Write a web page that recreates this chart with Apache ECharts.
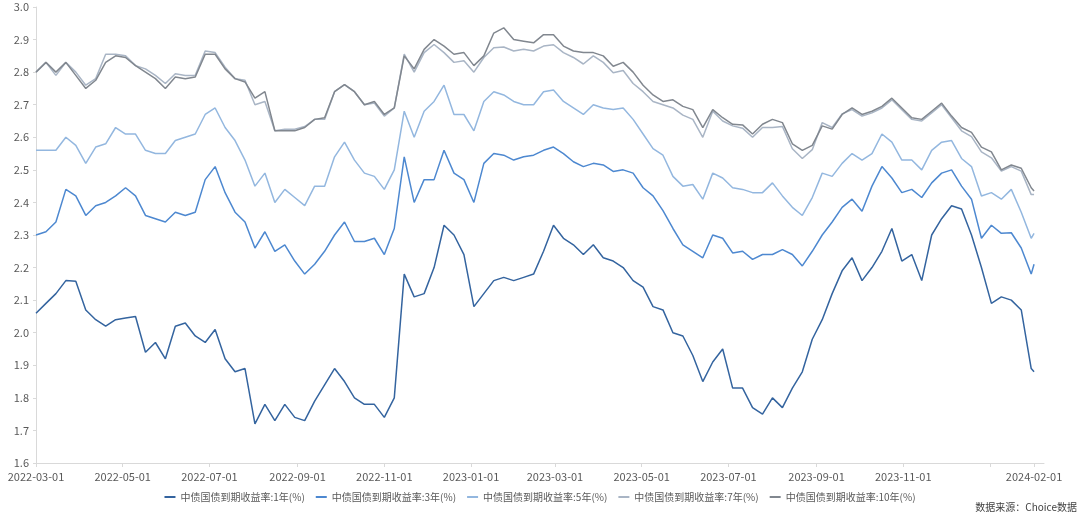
<!DOCTYPE html>
<html>
<head>
<meta charset="utf-8">
<script src="https://cdn.jsdelivr.net/npm/echarts@6/dist/echarts.min.js"></script>
<style>html,body{margin:0;padding:0;background:#fff;}#c{width:1080px;height:525px;}</style>
</head>
<body>
<div id="c"></div>
<script>
const dates = [
"2022-03-01","2022-03-08","2022-03-15","2022-03-22","2022-03-29","2022-04-05","2022-04-12","2022-04-19","2022-04-26","2022-05-03",
"2022-05-10","2022-05-17","2022-05-24","2022-05-31","2022-06-07","2022-06-14","2022-06-21","2022-06-28","2022-07-05","2022-07-12",
"2022-07-19","2022-07-26","2022-08-02","2022-08-09","2022-08-16","2022-08-23","2022-08-30","2022-09-06","2022-09-13","2022-09-20",
"2022-09-27","2022-10-04","2022-10-11","2022-10-18","2022-10-25","2022-11-01","2022-11-08","2022-11-15","2022-11-22","2022-11-29",
"2022-12-06","2022-12-13","2022-12-20","2022-12-27","2023-01-03","2023-01-10","2023-01-17","2023-01-24","2023-01-31","2023-02-07",
"2023-02-14","2023-02-21","2023-02-28","2023-03-07","2023-03-14","2023-03-21","2023-03-28","2023-04-04","2023-04-11","2023-04-18",
"2023-04-25","2023-05-02","2023-05-09","2023-05-16","2023-05-23","2023-05-30","2023-06-06","2023-06-13","2023-06-20","2023-06-27",
"2023-07-04","2023-07-11","2023-07-18","2023-07-25","2023-08-01","2023-08-08","2023-08-15","2023-08-22","2023-08-29","2023-09-05",
"2023-09-12","2023-09-19","2023-09-26","2023-10-03","2023-10-10","2023-10-17","2023-10-24","2023-10-31","2023-11-07","2023-11-14",
"2023-11-21","2023-11-28","2023-12-05","2023-12-12","2023-12-19","2023-12-26","2024-01-02","2024-01-09","2024-01-16","2024-01-23",
"2024-01-30","2024-02-01"
];
const y1 = [
2.06,2.09,2.12,2.16,2.158,2.07,2.04,2.02,2.04,2.045,
2.05,1.94,1.97,1.92,2.02,2.03,1.99,1.97,2.01,1.92,
1.88,1.89,1.72,1.78,1.73,1.78,1.74,1.73,1.79,1.84,
1.89,1.85,1.80,1.78,1.78,1.74,1.80,2.18,2.11,2.12,
2.20,2.33,2.30,2.24,2.08,2.12,2.16,2.17,2.16,2.17,
2.18,2.25,2.33,2.29,2.27,2.24,2.27,2.23,2.22,2.20,
2.16,2.14,2.08,2.07,2.00,1.99,1.93,1.85,1.91,1.95,
1.83,1.83,1.77,1.75,1.80,1.77,1.83,1.88,1.98,2.04,
2.12,2.19,2.23,2.16,2.20,2.25,2.32,2.22,2.24,2.16,
2.30,2.35,2.39,2.38,2.30,2.20,2.09,2.11,2.10,2.07,
1.89,1.88
];
const y3 = [
2.30,2.31,2.34,2.44,2.42,2.36,2.39,2.40,2.42,2.445,
2.42,2.36,2.35,2.34,2.37,2.36,2.37,2.47,2.51,2.43,
2.37,2.34,2.26,2.31,2.25,2.27,2.22,2.18,2.21,2.25,
2.30,2.34,2.28,2.28,2.29,2.24,2.32,2.54,2.40,2.47,
2.47,2.56,2.49,2.47,2.40,2.52,2.55,2.545,2.53,2.54,
2.545,2.56,2.57,2.55,2.525,2.51,2.52,2.515,2.495,2.50,
2.49,2.445,2.42,2.375,2.32,2.27,2.25,2.23,2.30,2.29,
2.245,2.25,2.225,2.24,2.24,2.255,2.24,2.205,2.25,2.30,
2.34,2.385,2.41,2.373,2.45,2.51,2.475,2.43,2.44,2.415,
2.46,2.49,2.50,2.45,2.41,2.29,2.33,2.305,2.307,2.26,
2.18,2.21
];
const y5 = [
2.56,2.56,2.56,2.60,2.575,2.52,2.57,2.58,2.63,2.61,
2.61,2.56,2.55,2.55,2.59,2.60,2.61,2.67,2.69,2.63,
2.59,2.53,2.45,2.49,2.40,2.44,2.415,2.39,2.45,2.45,
2.54,2.585,2.53,2.49,2.48,2.44,2.50,2.68,2.60,2.68,
2.71,2.76,2.67,2.67,2.62,2.71,2.74,2.73,2.71,2.70,
2.70,2.74,2.745,2.71,2.69,2.67,2.70,2.69,2.685,2.69,
2.655,2.61,2.565,2.545,2.48,2.45,2.455,2.41,2.49,2.475,
2.445,2.44,2.43,2.43,2.46,2.42,2.385,2.36,2.415,2.49,
2.48,2.52,2.55,2.53,2.55,2.61,2.585,2.53,2.53,2.50,
2.56,2.585,2.59,2.535,2.51,2.42,2.43,2.41,2.44,2.37,
2.29,2.305
];
const y7 = [
2.80,2.83,2.79,2.83,2.80,2.76,2.78,2.855,2.855,2.85,
2.82,2.81,2.79,2.765,2.795,2.79,2.79,2.865,2.86,2.815,
2.78,2.775,2.70,2.71,2.62,2.625,2.625,2.633,2.655,2.655,
2.74,2.762,2.74,2.70,2.705,2.665,2.69,2.855,2.80,2.86,
2.885,2.86,2.83,2.835,2.80,2.845,2.875,2.877,2.865,2.87,
2.865,2.88,2.884,2.86,2.845,2.825,2.85,2.83,2.798,2.805,
2.765,2.74,2.71,2.70,2.69,2.668,2.655,2.60,2.68,2.65,
2.635,2.628,2.60,2.63,2.63,2.633,2.565,2.535,2.562,2.645,
2.63,2.672,2.685,2.665,2.675,2.69,2.715,2.685,2.655,2.65,
2.675,2.70,2.66,2.62,2.602,2.555,2.537,2.496,2.51,2.496,
2.424,2.424
];
const y10 = [
2.80,2.83,2.80,2.83,2.79,2.75,2.775,2.83,2.85,2.845,
2.82,2.80,2.78,2.75,2.785,2.78,2.785,2.855,2.855,2.81,
2.78,2.77,2.72,2.74,2.62,2.62,2.62,2.63,2.655,2.66,
2.74,2.762,2.74,2.70,2.71,2.67,2.69,2.85,2.81,2.87,
2.90,2.88,2.855,2.86,2.82,2.85,2.92,2.936,2.90,2.895,
2.89,2.915,2.915,2.88,2.865,2.86,2.86,2.85,2.818,2.83,
2.80,2.76,2.73,2.71,2.715,2.695,2.685,2.63,2.685,2.66,
2.64,2.638,2.61,2.64,2.655,2.645,2.58,2.56,2.575,2.635,
2.625,2.67,2.69,2.67,2.68,2.695,2.72,2.69,2.66,2.655,
2.68,2.705,2.665,2.63,2.615,2.57,2.555,2.50,2.515,2.505,
2.445,2.435
];
const seriesNames = ["中债国债到期收益率:1年(%)","中债国债到期收益率:3年(%)","中债国债到期收益率:5年(%)","中债国债到期收益率:7年(%)","中债国债到期收益率:10年(%)"];
const seriesValues = [y1, y3, y5, y7, y10];
const colors = ["#34649f","#4d88d0","#93b7df","#a9b5c5","#81878f"];
const tickDates = ["2022-03-01","2022-05-01","2022-07-01","2022-09-01","2022-11-01","2023-01-01","2023-03-01","2023-05-01","2023-07-01","2023-09-01","2023-11-01","2024-01-01","2024-02-01"];
const labelDates = ["2022-03-01","2022-05-01","2022-07-01","2022-09-01","2022-11-01","2023-01-01","2023-03-01","2023-05-01","2023-07-01","2023-09-01","2023-11-01","2024-02-01"];

function ts(s){const p=s.split('-').map(Number);return Date.UTC(p[0],p[1]-1,p[2]);}
function fmt(v){const d=new Date(v);const m=d.getUTCMonth()+1, dd=d.getUTCDate();return d.getUTCFullYear()+'-'+(m<10?'0':'')+m+'-'+(dd<10?'0':'')+dd;}

const chart = echarts.init(document.getElementById('c'), null, {renderer:'canvas'});
const font = '"Microsoft YaHei","Noto Sans CJK SC","Noto Sans",sans-serif';
chart.setOption({
  animation:false,
  backgroundColor:'#ffffff',
  textStyle:{fontFamily:font},
  color: colors,
  grid:{left:36,right:36,top:7,bottom:62,containLabel:false},
  legend:{
    data: seriesNames,
    left:'center', top:487,
    icon:'rect', itemWidth:11, itemHeight:2, itemGap:11,
    textStyle:{color:'#595959',fontSize:10,fontFamily:font}
  },
  graphic:[{type:'text',right:3,top:502,style:{text:'数据来源：Choice数据',fill:'#404040',font:'10px '+font}}],
  xAxis:{
    type:'value',
    min: ts('2022-03-01'), max: ts('2024-02-08'),
    axisLine:{show:true,lineStyle:{color:'#d9d9d9',width:1}},
    axisTick:{show:true,length:4,lineStyle:{color:'#d9d9d9'},customValues: tickDates.map(ts)},
    axisLabel:{color:'#595959',fontSize:11,margin:8,customValues: labelDates.map(ts),formatter:function(v){return fmt(v);}},
    splitLine:{show:false}
  },
  yAxis:{
    type:'value', min:1.6, max:3.0, interval:0.1,
    axisLine:{show:true,lineStyle:{color:'#d9d9d9',width:1}},
    axisTick:{show:true,length:3,lineStyle:{color:'#d9d9d9'}},
    axisLabel:{color:'#595959',fontSize:11,margin:7,formatter:function(v){return v.toFixed(1);}},
    splitLine:{show:false}
  },
  series: seriesNames.map(function(n,i){
    return {
      name:n, type:'line', showSymbol:false, symbol:'none',
      lineStyle:{width:1.5,color:colors[i]},
      itemStyle:{color:colors[i]},
      data: dates.map(function(d,j){return [ts(d), seriesValues[i][j]];})
    };
  })
});
</script>
</body>
</html>
